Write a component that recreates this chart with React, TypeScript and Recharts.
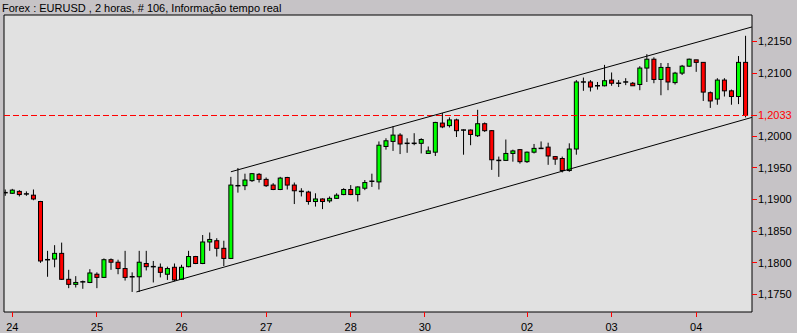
import React from 'react';
import { ComposedChart, Bar, XAxis, YAxis, CartesianGrid, ReferenceLine, ReferenceArea } from 'recharts';

// EURUSD 2h bars
const opens = [
  1.1911, 1.1910, 1.1913, 1.1909, 1.1907, 1.1897, 1.1805, 1.1806, 1.1815, 1.1774,
  1.1766, 1.1770, 1.1769, 1.1782, 1.1777, 1.1805, 1.1801, 1.1791, 1.1778, 1.1778,
  1.1799, 1.1794, 1.1793, 1.1782, 1.1793, 1.1774, 1.1794, 1.1810, 1.1799, 1.1833,
  1.1835, 1.1823, 1.1807, 1.1922, 1.1922, 1.1930, 1.1940, 1.1932, 1.1923, 1.1916,
  1.1935, 1.1923, 1.1913, 1.1912, 1.1897, 1.1901, 1.1898, 1.1902, 1.1908, 1.1916,
  1.1908, 1.1918, 1.1929, 1.1928, 1.1984, 1.1992, 1.2002, 1.1989, 1.1989, 1.1989,
  1.1973, 1.1975, 1.2021, 1.2017, 1.2026, 1.2010, 1.2010, 1.2001, 1.2020, 1.2009,
  1.1962, 1.1962, 1.1973, 1.1979, 1.1960, 1.1975, 1.1981, 1.1983, 1.1968, 1.1965,
  1.1946, 1.1980, 1.2086, 1.2086, 1.2080, 1.2080, 1.2089, 1.2084, 1.2086, 1.2084,
  1.2082, 1.2108, 1.2122, 1.2090, 1.2109, 1.2085, 1.2100, 1.2111, 1.2121, 1.2117,
  1.2069, 1.2059, 1.2089, 1.2072, 1.2063, 1.2117,
];
const highs = [
  1.1916, 1.1917, 1.1915, 1.1913, 1.1916, 1.1898, 1.1819, 1.1828, 1.1832, 1.1789,
  1.1779, 1.1772, 1.1790, 1.1785, 1.1807, 1.1807, 1.1805, 1.1819, 1.1785, 1.1819,
  1.1819, 1.1803, 1.1799, 1.1794, 1.1799, 1.1797, 1.1819, 1.1811, 1.1844, 1.1848,
  1.1839, 1.1835, 1.1936, 1.1950, 1.1941, 1.1942, 1.1942, 1.1935, 1.1926, 1.1936,
  1.1936, 1.1927, 1.1918, 1.1914, 1.1910, 1.1902, 1.1905, 1.1910, 1.1918, 1.1923,
  1.1921, 1.1931, 1.1941, 1.1992, 1.1997, 1.2016, 1.2005, 1.1997, 1.2005, 1.1997,
  1.1984, 1.2023, 1.2037, 1.2030, 1.2028, 1.2011, 1.2011, 1.2042, 1.2022, 1.2010,
  1.1968, 1.1995, 1.1979, 1.1980, 1.1976, 1.1988, 1.1992, 1.1990, 1.1969, 1.1968,
  1.1989, 1.2089, 1.2093, 1.2089, 1.2086, 1.2113, 1.2101, 1.2089, 1.2092, 1.2086,
  1.2111, 1.2130, 1.2125, 1.2116, 1.2116, 1.2102, 1.2113, 1.2123, 1.2121, 1.2117,
  1.2071, 1.2092, 1.2092, 1.2074, 1.2127, 1.2159,
];
const lows = [
  1.1906, 1.1909, 1.1905, 1.1906, 1.1899, 1.1800, 1.1778, 1.1793, 1.1773, 1.1760,
  1.1761, 1.1759, 1.1768, 1.1760, 1.1776, 1.1789, 1.1782, 1.1772, 1.1754, 1.1754,
  1.1788, 1.1769, 1.1777, 1.1773, 1.1771, 1.1773, 1.1793, 1.1798, 1.1798, 1.1819,
  1.1810, 1.1795, 1.1806, 1.1911, 1.1915, 1.1928, 1.1927, 1.1920, 1.1915, 1.1915,
  1.1916, 1.1893, 1.1905, 1.1892, 1.1889, 1.1885, 1.1895, 1.1901, 1.1907, 1.1907,
  1.1897, 1.1915, 1.1920, 1.1916, 1.1979, 1.1977, 1.1972, 1.1974, 1.1986, 1.1973,
  1.1973, 1.1969, 1.2013, 1.2014, 1.1999, 1.1971, 1.1986, 1.1999, 1.2007, 1.1947,
  1.1936, 1.1962, 1.1960, 1.1957, 1.1958, 1.1973, 1.1980, 1.1955, 1.1955, 1.1943,
  1.1944, 1.1971, 1.2072, 1.2071, 1.2074, 1.2079, 1.2080, 1.2078, 1.2081, 1.2080,
  1.2073, 1.2086, 1.2084, 1.2065, 1.2073, 1.2082, 1.2097, 1.2110, 1.2102, 1.2056,
  1.2045, 1.2050, 1.2063, 1.2050, 1.2051, 1.2030,
];
const closes = [
  1.1911, 1.1915, 1.1908, 1.1909, 1.1901, 1.1803, 1.1805, 1.1815, 1.1774, 1.1766,
  1.1769, 1.1770, 1.1784, 1.1777, 1.1805, 1.1801, 1.1791, 1.1777, 1.1778, 1.1801,
  1.1794, 1.1794, 1.1785, 1.1791, 1.1773, 1.1793, 1.1810, 1.1799, 1.1833, 1.1837,
  1.1823, 1.1807, 1.1923, 1.1922, 1.1931, 1.1941, 1.1932, 1.1922, 1.1916, 1.1934,
  1.1923, 1.1914, 1.1913, 1.1897, 1.1901, 1.1897, 1.1902, 1.1907, 1.1916, 1.1908,
  1.1920, 1.1927, 1.1929, 1.1986, 1.1993, 1.2002, 1.1988, 1.1989, 1.1989, 1.1995,
  1.1977, 1.2022, 1.2015, 1.2026, 1.2009, 1.2010, 1.2003, 1.2020, 1.2009, 1.1963,
  1.1962, 1.1973, 1.1977, 1.1960, 1.1975, 1.1981, 1.1981, 1.1969, 1.1964, 1.1946,
  1.1980, 1.2086, 1.2086, 1.2078, 1.2080, 1.2088, 1.2084, 1.2084, 1.2086, 1.2080,
  1.2108, 1.2122, 1.2090, 1.2109, 1.2086, 1.2100, 1.2111, 1.2122, 1.2117, 1.2070,
  1.2056, 1.2089, 1.2072, 1.2063, 1.2117, 1.2033,
];

const xTickPositions = [1, 13, 25, 37, 49, 59.5, 74, 86, 98];
const xTickLabels = ['24', '25', '26', '27', '28', '30', '02', '03', '04'];
const yTicks = [1.175, 1.18, 1.185, 1.19, 1.195, 1.2, 1.21, 1.215];
const lastPrice = 1.2033;

// trend channel drawn on the chart (bar index, price)
const upperChannel = [{ x: 32, y: 1.1944 }, { x: 105.9, y: 1.2173 }];
const lowerChannel = [{ x: 18.6, y: 1.1754 }, { x: 105.9, y: 1.2030 }];

const xDomain = [-0.18, 105.91];
const yDomain = [1.17223, 1.21919];

const candles = opens.map((o, i) => ({
  i,
  open: o,
  high: highs[i],
  low: lows[i],
  close: closes[i],
  range: [lows[i], highs[i]],
}));

const fmt = (v: number) => v.toFixed(4).replace('.', ',');

function Candle(props: any) {
  const { x, y, width, height, payload } = props;
  if (x == null || y == null || !payload) return null;
  const top = Math.min(y, y + height);
  const bottom = Math.max(y, y + height);
  const { open, close, high, low } = payload;
  const span = high - low || 1;
  const toY = (v: number) => top + ((high - v) / span) * (bottom - top);
  const cx = x + width / 2;
  const yo = toY(open);
  const yc = toY(close);
  return (
    <g>
      <line x1={cx} x2={cx} y1={top} y2={bottom} stroke="#000" strokeWidth={1} />
      {open === close ? (
        <line x1={cx - 2.5} x2={cx + 2.5} y1={yo} y2={yo} stroke="#000" strokeWidth={1.5} />
      ) : (
        <rect
          x={cx - 2}
          y={Math.min(yo, yc)}
          width={4}
          height={Math.abs(yo - yc)}
          fill={close > open ? '#00ff00' : '#ff0000'}
          stroke="#000"
          strokeWidth={1}
        />
      )}
    </g>
  );
}

function PriceTick(props: any) {
  const { x, y, payload } = props;
  const isLast = payload.value === lastPrice;
  return (
    <text x={x} y={y} dy="0.35em" textAnchor="start" fontSize={11} fill={isLast ? '#ff0000' : '#000'}>
      {fmt(payload.value)}
    </text>
  );
}

export default function App() {
  const lastLine = [{ x: xDomain[0], y: lastPrice }, { x: xDomain[1], y: lastPrice }];
  return (
    <div
      style={{
        position: 'absolute',
        left: 0,
        top: 0,
        width: 797,
        height: 333,
        background: '#c6c3c6',
        fontFamily: '"Liberation Sans", Arial, sans-serif',
      }}
    >
      <div style={{ position: 'absolute', left: 2, top: 1, fontSize: 11, lineHeight: '14px', color: '#000', whiteSpace: 'nowrap' }}>
        Forex : EURUSD , 2 horas, # 106, Informação tempo real
      </div>
      <ComposedChart width={797} height={333} data={candles} margin={{ top: 15, right: 0, bottom: 0, left: 4 }}>
        <CartesianGrid horizontal={false} vertical={false} fill="#e1e1e1" />
        <XAxis
          dataKey="i"
          type="number"
          domain={xDomain}
          allowDataOverflow
          ticks={xTickPositions}
          interval={0}
          tickFormatter={(v: number) => xTickLabels[xTickPositions.indexOf(v)] ?? ''}
          axisLine={false}
          tickLine={{ stroke: '#ff0000', shapeRendering: 'crispEdges' }}
          tickSize={5}
          tickMargin={6}
          height={21}
          tick={{ fill: '#000', fontSize: 11 }}
        />
        <YAxis
          orientation="right"
          type="number"
          domain={yDomain}
          allowDataOverflow
          ticks={[...yTicks, lastPrice]}
          interval={0}
          axisLine={false}
          tickLine={{ stroke: '#ff0000', shapeRendering: 'crispEdges' }}
          tickSize={5}
          tickMargin={1}
          width={45}
          tick={<PriceTick />}
        />
        <ReferenceLine
          segment={lastLine}
          stroke="#ff0000"
          strokeWidth={1}
          strokeDasharray="6 3"
          shapeRendering="crispEdges"
        />
        <ReferenceLine segment={upperChannel} stroke="#000" strokeWidth={1} />
        <ReferenceLine segment={lowerChannel} stroke="#000" strokeWidth={1} />
        <Bar dataKey="range" barSize={5} shape={(p: any) => <Candle {...p} />} isAnimationActive={false} />
        <ReferenceArea x1={xDomain[0]} x2={xDomain[1]} y1={yDomain[0]} y2={yDomain[1]} fill="none" stroke="#000" strokeWidth={1} />
      </ComposedChart>
    </div>
  );
}
